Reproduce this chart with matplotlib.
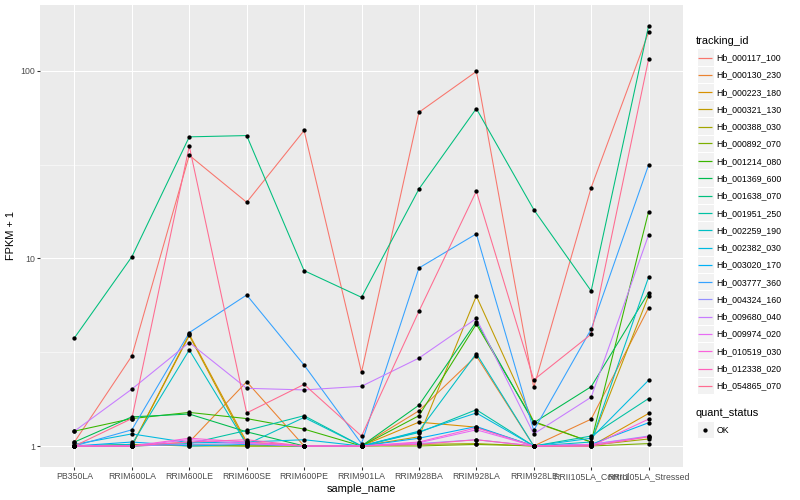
import numpy as np
import matplotlib
matplotlib.use("Agg")
import matplotlib.pyplot as plt
from matplotlib.patches import Rectangle
from matplotlib.lines import Line2D

samples = ["PB350LA", "RRIM600LA", "RRIM600LE", "RRIM600SE", "RRIM600PE",
           "RRIM901LA", "RRIM928BA", "RRIM928LA", "RRIM928LE",
           "RRII105LA_Control", "RRII105LA_Stressed"]

tracking_ids = ["Hb_000117_100", "Hb_000130_230", "Hb_000223_180", "Hb_000321_130",
                "Hb_000388_030", "Hb_000892_070", "Hb_001214_080", "Hb_001369_600",
                "Hb_001638_070", "Hb_001951_250", "Hb_002259_190", "Hb_002382_030",
                "Hb_003020_170", "Hb_003777_360", "Hb_004324_160", "Hb_009680_040",
                "Hb_009974_020", "Hb_010519_030", "Hb_012338_020", "Hb_054865_070"]

colors = ["#F8766D", "#EA8331", "#D89000", "#C09B00", "#A3A500", "#7CAE00",
          "#39B600", "#00BB4E", "#00BF7D", "#00C1A3", "#00BFC4", "#00BAE0",
          "#00B0F6", "#35A2FF", "#9590FF", "#C77CFF", "#E76BF3", "#FA62DB",
          "#FF62BC", "#FF6C91"]

# FPKM + 1 per sample, one list per tracking_id
hb_000117_100 = [1.05, 3.02, 35.4, 19.9, 48.0, 2.47, 60.0, 99.0, 2.05, 23.8, 160.0]
hb_000130_230 = [1.0, 1.0, 1.05, 2.20, 1.0, 1.0, 1.54, 3.02, 1.0, 1.39, 5.44]
hb_000223_180 = [1.0, 1.0, 3.94, 1.05, 1.0, 1.0, 1.34, 1.26, 1.0, 1.0, 1.49]
hb_000321_130 = [1.0, 1.0, 3.88, 1.02, 1.0, 1.0, 1.12, 6.30, 1.34, 1.05, 6.32]
hb_000388_030 = [1.0, 1.0, 1.02, 1.0, 1.0, 1.0, 1.02, 1.03, 1.0, 1.01, 1.09]
hb_000892_070 = [1.0, 1.02, 1.0, 1.0, 1.0, 1.0, 1.0, 1.02, 1.0, 1.0, 1.03]
hb_001214_080 = [1.20, 1.40, 1.51, 1.40, 1.23, 1.0, 1.45, 4.46, 1.35, 1.05, 17.7]
hb_001369_600 = [1.05, 1.43, 1.48, 1.19, 1.0, 1.0, 1.65, 4.60, 1.33, 2.07, 6.57]
hb_001638_070 = [3.77, 10.2, 44.4, 45.1, 8.6, 6.2, 23.4, 62.8, 18.2, 6.7, 173.0]
hb_001951_250 = [1.0, 1.0, 1.03, 1.21, 1.45, 1.0, 1.18, 1.56, 1.0, 1.13, 1.79]
hb_002259_190 = [1.0, 1.02, 3.25, 1.02, 1.42, 1.0, 1.20, 3.11, 1.0, 1.05, 7.93]
hb_002382_030 = [1.02, 1.16, 1.04, 1.05, 1.08, 1.0, 1.19, 1.50, 1.0, 1.10, 2.24]
hb_003020_170 = [1.0, 1.05, 1.0, 1.02, 1.0, 1.0, 1.10, 1.27, 1.0, 1.02, 1.33]
hb_003777_360 = [1.0, 1.22, 4.02, 6.38, 2.70, 1.03, 8.88, 13.5, 1.21, 4.19, 31.4]
hb_004324_160 = [1.0, 1.0, 1.02, 1.03, 1.0, 1.0, 1.03, 1.08, 1.0, 1.02, 1.13]
hb_009680_040 = [1.20, 2.01, 3.56, 2.03, 1.99, 2.08, 2.94, 4.78, 1.16, 1.82, 13.3]
hb_009974_020 = [1.0, 1.0, 1.08, 1.03, 1.0, 1.0, 1.04, 1.22, 1.0, 1.02, 1.12]
hb_010519_030 = [1.0, 1.0, 1.10, 1.05, 1.0, 1.0, 1.05, 1.25, 1.0, 1.0, 1.39]
hb_012338_020 = [1.0, 1.0, 1.05, 1.08, 1.0, 1.0, 1.02, 1.08, 1.0, 1.0, 1.12]
hb_054865_070 = [1.0, 1.40, 39.6, 1.50, 2.13, 1.13, 5.22, 22.8, 2.25, 3.94, 115.0]

series = [hb_000117_100, hb_000130_230, hb_000223_180, hb_000321_130, hb_000388_030,
          hb_000892_070, hb_001214_080, hb_001369_600, hb_001638_070, hb_001951_250,
          hb_002259_190, hb_002382_030, hb_003020_170, hb_003777_360, hb_004324_160,
          hb_009680_040, hb_009974_020, hb_010519_030, hb_012338_020, hb_054865_070]

y_ticks = [1, 10, 100]
y_tick_labels = ["1", "10", "100"]

plt.rcParams['font.family'] = ['Liberation Sans', 'DejaVu Sans']

W, H = 800, 500
fig = plt.figure(figsize=(8, 5), dpi=100)
fig.patch.set_facecolor("white")

PX = 72 / 100.0  # points per pixel


def fx(x):
    return x / W


def fy(y):
    return 1 - y / H


left, right, top, bottom = 40, 683, 5, 467
ax = fig.add_axes([fx(left), fy(bottom), (right - left) / W, (bottom - top) / H])
ax.set_facecolor("#EBEBEB")
for s in ax.spines.values():
    s.set_visible(False)

x = np.arange(len(samples))
ax.set_yscale("log")

logs = np.log10(np.concatenate([np.array(s) for s in series]))
lo, hi = logs.min(), logs.max()
pad = (hi - lo) * 0.05
ax.set_ylim(10 ** (lo - pad), 10 ** (hi + pad))
ax.set_xlim(-0.6, len(samples) - 1 + 0.6)

for m in [10 ** 0.5, 10 ** 1.5]:
    ax.axhline(m, color="white", lw=0.53 * PX, zorder=0.5)
for t in y_ticks:
    ax.axhline(t, color="white", lw=1.07 * PX, zorder=0.6)
for xi in x:
    ax.axvline(xi, color="white", lw=1.07 * PX, zorder=0.6)

for vals, c in zip(series, colors):
    ax.plot(x, vals, color=c, lw=1.07 * PX, zorder=2, solid_joinstyle="round")
for vals in series:
    ax.plot(x, vals, linestyle="none", marker="o", ms=3.1, mfc="black",
            mec="black", mew=0, zorder=3)

ax.set_xticks(x)
ax.set_xticklabels(samples)
ax.set_yticks(y_ticks)
ax.set_yticklabels(y_tick_labels)
ax.yaxis.set_minor_locator(matplotlib.ticker.NullLocator())
ax.tick_params(axis="both", which="major", length=2.75 * PX, width=1.07 * PX,
               color="#333333", labelcolor="#4D4D4D", labelsize=8.8 * PX,
               pad=2.2 * PX)

fig.text(fx(361.5), fy(489), "sample_name", ha="center", va="center",
         fontsize=11 * PX, color="black")
fig.text(fx(11), fy(236), "FPKM + 1", ha="center", va="center",
         rotation=90, fontsize=11 * PX, color="black")

# legend: tracking_id
fig.text(fx(696), fy(44.5), "tracking_id", ha="left", va="baseline",
         fontsize=11 * PX, color="black")
key = 17.28
row0 = 57.0
for i, (tid, c) in enumerate(zip(tracking_ids, colors)):
    cy = row0 + key * i
    ly = np.floor(cy) + 0.5
    fig.patches.append(Rectangle((fx(696.5), fy(cy + key / 2)), key / W, key / H,
                                 transform=fig.transFigure, facecolor="#F2F2F2",
                                 edgecolor="white", lw=1.0 * PX, zorder=1))
    fig.lines.append(Line2D([fx(698), fx(712)], [fy(ly), fy(ly)],
                            transform=fig.transFigure, color=c, lw=1.2 * PX,
                            solid_capstyle="butt", zorder=3))
    fig.text(fx(716.5), fy(cy + 3.2), tid, ha="left", va="baseline",
             fontsize=8.8 * PX, color="black")

# legend: quant_status
fig.text(fx(696), fy(416), "quant_status", ha="left", va="baseline",
         fontsize=11 * PX, color="black")
cy = 429.5
fig.patches.append(Rectangle((fx(696.5), fy(cy + key / 2)), key / W, key / H,
                             transform=fig.transFigure, facecolor="#F2F2F2",
                             edgecolor="white", lw=1.0 * PX, zorder=1))
fig.lines.append(Line2D([fx(705.1)], [fy(cy)], transform=fig.transFigure,
                        linestyle="none", marker="o", ms=3.1, mfc="black",
                        mec="black", mew=0, zorder=3))
fig.text(fx(716.5), fy(cy + 3.2), "OK", ha="left", va="baseline",
         fontsize=8.8 * PX, color="black")

fig.savefig("out.png", dpi=100)
